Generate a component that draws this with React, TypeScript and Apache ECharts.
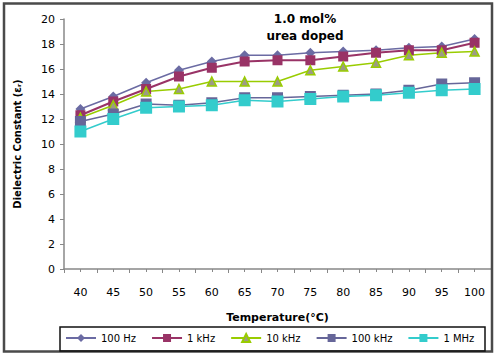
import React, { useEffect, useRef } from "react";
import * as echarts from "echarts";

const temperatures = ["40", "45", "50", "55", "60", "65", "70", "75", "80", "85", "90", "95", "100"];
const hz100 = [12.8, 13.8, 14.9, 15.9, 16.6, 17.1, 17.1, 17.3, 17.4, 17.5, 17.7, 17.8, 18.4];
const khz1 = [12.3, 13.4, 14.4, 15.4, 16.1, 16.6, 16.7, 16.7, 17.0, 17.3, 17.5, 17.5, 18.1];
const khz10 = [12.1, 13.1, 14.2, 14.4, 15.0, 15.0, 15.0, 15.9, 16.2, 16.5, 17.1, 17.3, 17.4];
const khz100 = [11.8, 12.4, 13.2, 13.1, 13.3, 13.7, 13.7, 13.8, 13.9, 14.0, 14.3, 14.8, 14.9];
const mhz1 = [11.0, 12.0, 12.9, 13.0, 13.1, 13.5, 13.4, 13.6, 13.8, 13.9, 14.1, 14.3, 14.4];
const seriesNames = ["100 Hz", "1 kHz", "10 kHz", "100 kHz", "1 MHz"];
const yTicks = { min: 0, max: 20, interval: 2 };

const FONT = "DejaVu Sans";

export default function App() {
  const ref = useRef<HTMLDivElement>(null);
  useEffect(() => {
    if (!ref.current) return;
    const chart = echarts.init(ref.current, null, { renderer: "svg" });
    const mk = (
      name: string,
      data: number[],
      color: string,
      symbol: string,
      size: number,
      lw: number,
      fill?: string
    ) => ({
      name,
      type: "line",
      data,
      symbol,
      symbolSize: size,
      lineStyle: { color, width: lw },
      itemStyle: fill
        ? { color: fill, borderColor: color, borderWidth: 1.5 }
        : { color },
      color,
      z: 3,
    });
    chart.setOption({
      animation: false,
      backgroundColor: "#fff",
      grid: { left: 64, right: 6, top: 19, bottom: 87 },
      graphic: [
        {
          type: "rect",
          shape: { x: 4, y: 3.5, width: 488, height: 348 },
          style: { fill: "none", stroke: "#4a4a4a", lineWidth: 2.5 },
          z: 10,
        },
        {
          type: "rect",
          shape: { x: 60, y: 327, width: 425, height: 24 },
          style: { fill: "none", stroke: "#111", lineWidth: 1.5 },
          z: 10,
        },
        {
          type: "text",
          x: 305,
          y: 10,
          style: {
            text: "1.0 mol%\nurea doped",
            fontFamily: FONT,
            fontSize: 12,
            fontWeight: "bold",
            lineHeight: 17,
            align: "center",
            fill: "#000",
          },
          z: 10,
        },
      ],
      legend: {
        left: 65,
        top: 333,
        itemWidth: 30,
        itemHeight: 10,
        itemGap: 15,
        padding: 0,
        textStyle: { fontFamily: FONT, fontSize: 10, color: "#000" },
        data: seriesNames,
      },
      xAxis: [
        {
          type: "category",
          data: temperatures,
          boundaryGap: true,
          position: "bottom",
          axisLine: { lineStyle: { color: "#888", width: 1.5 } },
          axisTick: { show: true, alignWithLabel: false, inside: false, length: 4, lineStyle: { color: "#888" } },
          axisLabel: { fontFamily: FONT, fontSize: 11, color: "#000", margin: 18 },
          name: "Temperature(°C)",
          nameLocation: "middle",
          nameGap: 43,
          nameTextStyle: { fontFamily: FONT, fontSize: 11, fontWeight: "bold", color: "#000" },
          splitLine: { show: false },
        },
        {
          type: "category",
          data: temperatures,
          boundaryGap: true,
          position: "bottom",
          axisLine: { show: false },
          axisTick: { show: true, alignWithLabel: true, length: 3, lineStyle: { color: "#888" } },
          axisLabel: { show: false },
          splitLine: { show: false },
        },
      ],
      yAxis: {
        type: "value",
        min: yTicks.min,
        max: yTicks.max,
        interval: yTicks.interval,
        axisLine: { show: true, lineStyle: { color: "#888", width: 1.5 } },
        axisTick: { show: true, length: 4, lineStyle: { color: "#888" } },
        axisLabel: { fontFamily: FONT, fontSize: 11, color: "#000", margin: 9 },
        splitLine: { show: false },
        name: "Dielectric Constant (εᵣ)",
        nameLocation: "middle",
        nameGap: 42,
        nameTextStyle: { fontFamily: FONT, fontSize: 10, fontWeight: "bold", color: "#000" },
      },
      series: [
        mk(seriesNames[0], hz100, "#6b6ba3", "diamond", 10, 1.5),
        mk(seriesNames[1], khz1, "#993366", "rect", 10, 2),
        mk(seriesNames[2], khz10, "#99cc00", "triangle", 9, 1.5, "#9c9c84"),
        mk(seriesNames[3], khz100, "#666699", "rect", 11, 1.5),
        mk(seriesNames[4], mhz1, "#33cccc", "rect", 12, 1.5),
      ],
    });
    return () => chart.dispose();
  }, []);
  return <div ref={ref} style={{ width: 497, height: 356, position: "absolute", left: 0, top: 0 }} />;
}
